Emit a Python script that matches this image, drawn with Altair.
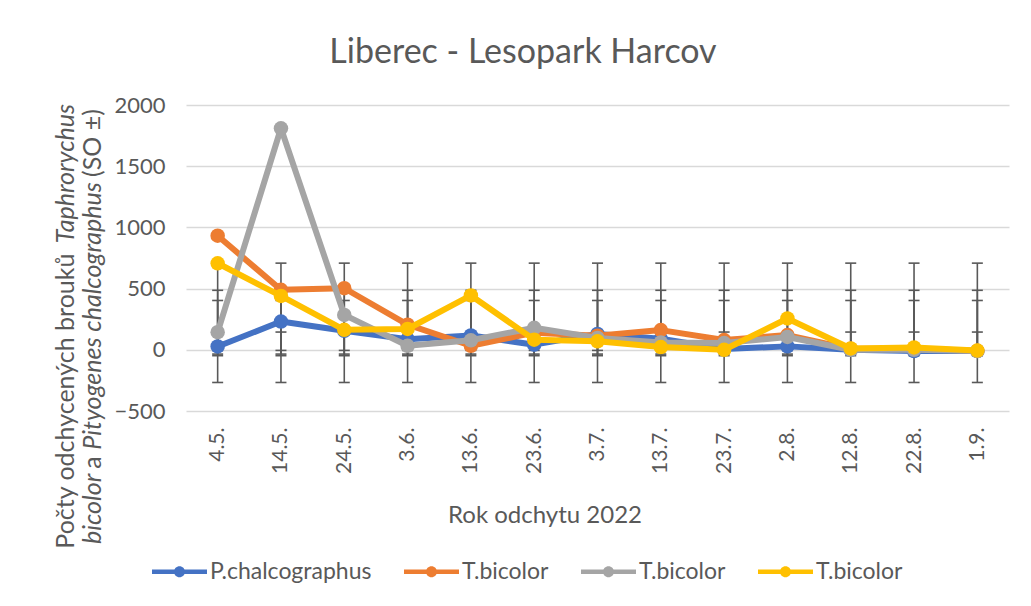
import altair as alt
import pandas as pd

categories = ["4.5.", "14.5.", "24.5.", "3.6.", "13.6.", "23.6.", "3.7.", "13.7.", "23.7.", "2.8.", "12.8.", "22.8.", "1.9."]
series_names = ["P.chalcographus", "T.bicolor#1", "T.bicolor#2", "T.bicolor#3"]
series_colors = ["#4472C4", "#ED7D31", "#A5A5A5", "#FFC000"]

p_chalcographus = [27, 231, 155, 87, 117, 42, 130, 90, 6, 28, 0, -10, -10]
t_bicolor_1 = [932, 490, 503, 205, 33, 140, 115, 161, 80, 120, 8, 8, -8]
t_bicolor_2 = [144, 1810, 285, 33, 78, 180, 97, 60, 55, 105, 0, 0, -10]
t_bicolor_3 = [707, 440, 163, 170, 444, 83, 69, 22, 0, 256, 11, 19, -6]

# error bars (SO) per series: low / high ends
err_low = [-5, -35, -267, -48]
err_high = [145, 486, 708, 403]

y_ticks = [-500, 0, 500, 1000, 1500, 2000]

FONT = "Lato"
TXT = "#595959"

series_values = [p_chalcographus, t_bicolor_1, t_bicolor_2, t_bicolor_3]
rows = []
for si, name in enumerate(series_names):
    for ci, cat in enumerate(categories):
        rows.append({"series": name, "cat": cat, "value": series_values[si][ci],
                     "lo": err_low[si], "hi": err_high[si]})
df = pd.DataFrame(rows)

xscale = alt.Scale(domain=categories, type="point", padding=0.5)
yscale = alt.Scale(domain=[-500, 2000], nice=False, zero=False)
xaxis = alt.Axis(title=None, labelAngle=270, labelFont=FONT, labelFontSize=21, labelColor=TXT,
                 labelPadding=16, ticks=False, tickSize=0, domain=False, grid=False)
yaxis = alt.Axis(title=None, values=y_ticks, format="d", labelFont=FONT, labelFontSize=22,
                 labelColor=TXT, labelPadding=21, ticks=False, tickSize=0, domain=False,
                 grid=True, gridColor="#D9D9D9", gridWidth=1.5)
X = alt.X("cat:N", sort=categories, scale=xscale, axis=xaxis)

base = alt.Chart(df)
err_rule = base.mark_rule(color=TXT, strokeWidth=1.6).encode(
    x=X, y=alt.Y("lo:Q", scale=yscale, axis=yaxis), y2="hi:Q")
err_lo = base.mark_tick(color=TXT, thickness=1.6, size=11, opacity=1).encode(
    x=X, y=alt.Y("lo:Q", scale=yscale, axis=yaxis))
err_hi = base.mark_tick(color=TXT, thickness=1.6, size=11, opacity=1).encode(
    x=X, y=alt.Y("hi:Q", scale=yscale, axis=yaxis))

color_scale = alt.Scale(domain=series_names, range=series_colors)
legend_symbol = ("M-1,-0.08L1,-0.08L1,0.08L-1,0.08Z "
                 "M0.2,0A0.2,0.2,0,1,1,-0.2,0A0.2,0.2,0,1,1,0.2,0Z")
legend = alt.Legend(title=None, orient="none", legendX=-34, legendY=439, direction="horizontal",
                    symbolType=legend_symbol, symbolSize=3025, symbolStrokeWidth=0,
                    symbolOpacity=1, labelFont=FONT, labelFontSize=23, labelLimit=400,
                    labelColor=TXT, labelOffset=3, columnPadding=32, padding=0,
                    labelExpr="split(datum.label, '#')[0]")

layers = [err_rule, err_lo, err_hi]
for name in series_names:
    sub = base.transform_filter(alt.datum.series == name)
    line = sub.mark_line(strokeWidth=6, strokeJoin="round", strokeCap="round").encode(
        x=X, y=alt.Y("value:Q", scale=yscale, axis=yaxis),
        color=alt.Color("series:N", scale=color_scale, legend=legend))
    pts = sub.mark_point(filled=True, size=210, opacity=1, shape="circle").encode(
        x=X, y=alt.Y("value:Q", scale=yscale, axis=yaxis),
        color=alt.Color("series:N", scale=color_scale, legend=legend))
    layers += [line, pts]

one = pd.DataFrame({"k": [0]})


def txt(text, x, y, size, angle=0, italic=False, baseline="middle", align="center"):
    kw = dict(text=text, font=FONT, fontSize=size, color=TXT, align=align, baseline=baseline)
    if angle:
        kw["angle"] = angle
    if italic:
        kw["fontStyle"] = "italic"
    return alt.Chart(one).mark_text(**kw).encode(x=alt.value(x), y=alt.value(y))


# plot origin is at page (186, 105)
OX, OY = 186, 105
YT = 25
texts = [
    txt("Liberec - Lesopark Harcov", 523 - OX, 63 - OY, 34, baseline="alphabetic"),
    txt("Rok odchytu 2022", 545 - OX, 523 - OY, 24, baseline="alphabetic"),
    txt("Počty odchycených brouků", 66 - OX, 548.7 - OY, YT, angle=270, align="left"),
    txt("Taphrorychus", 66 - OX, 243.2 - OY, YT, angle=270, italic=True, align="left"),
    txt("bicolor", 93 - OX, 544 - OY, YT, angle=270, italic=True, align="left"),
    txt("a", 93 - OX, 462.5 - OY, YT, angle=270),
    txt("Pityogenes chalcographus", 93 - OX, 449.7 - OY, YT, angle=270, italic=True, align="left"),
    txt("(SO ±)", 93 - OX, 177 - OY, YT, angle=270, align="left"),
]

chart = alt.layer(*layers, *texts).properties(
    width=823, height=306,
    padding={"left": 178, "top": 97, "right": 14, "bottom": 190},
    autosize=alt.AutoSizeParams(type="none"),
    background="white",
).configure_view(stroke=None)

chart.save("out.html", embed_options={"renderer": "svg", "actions": False})
